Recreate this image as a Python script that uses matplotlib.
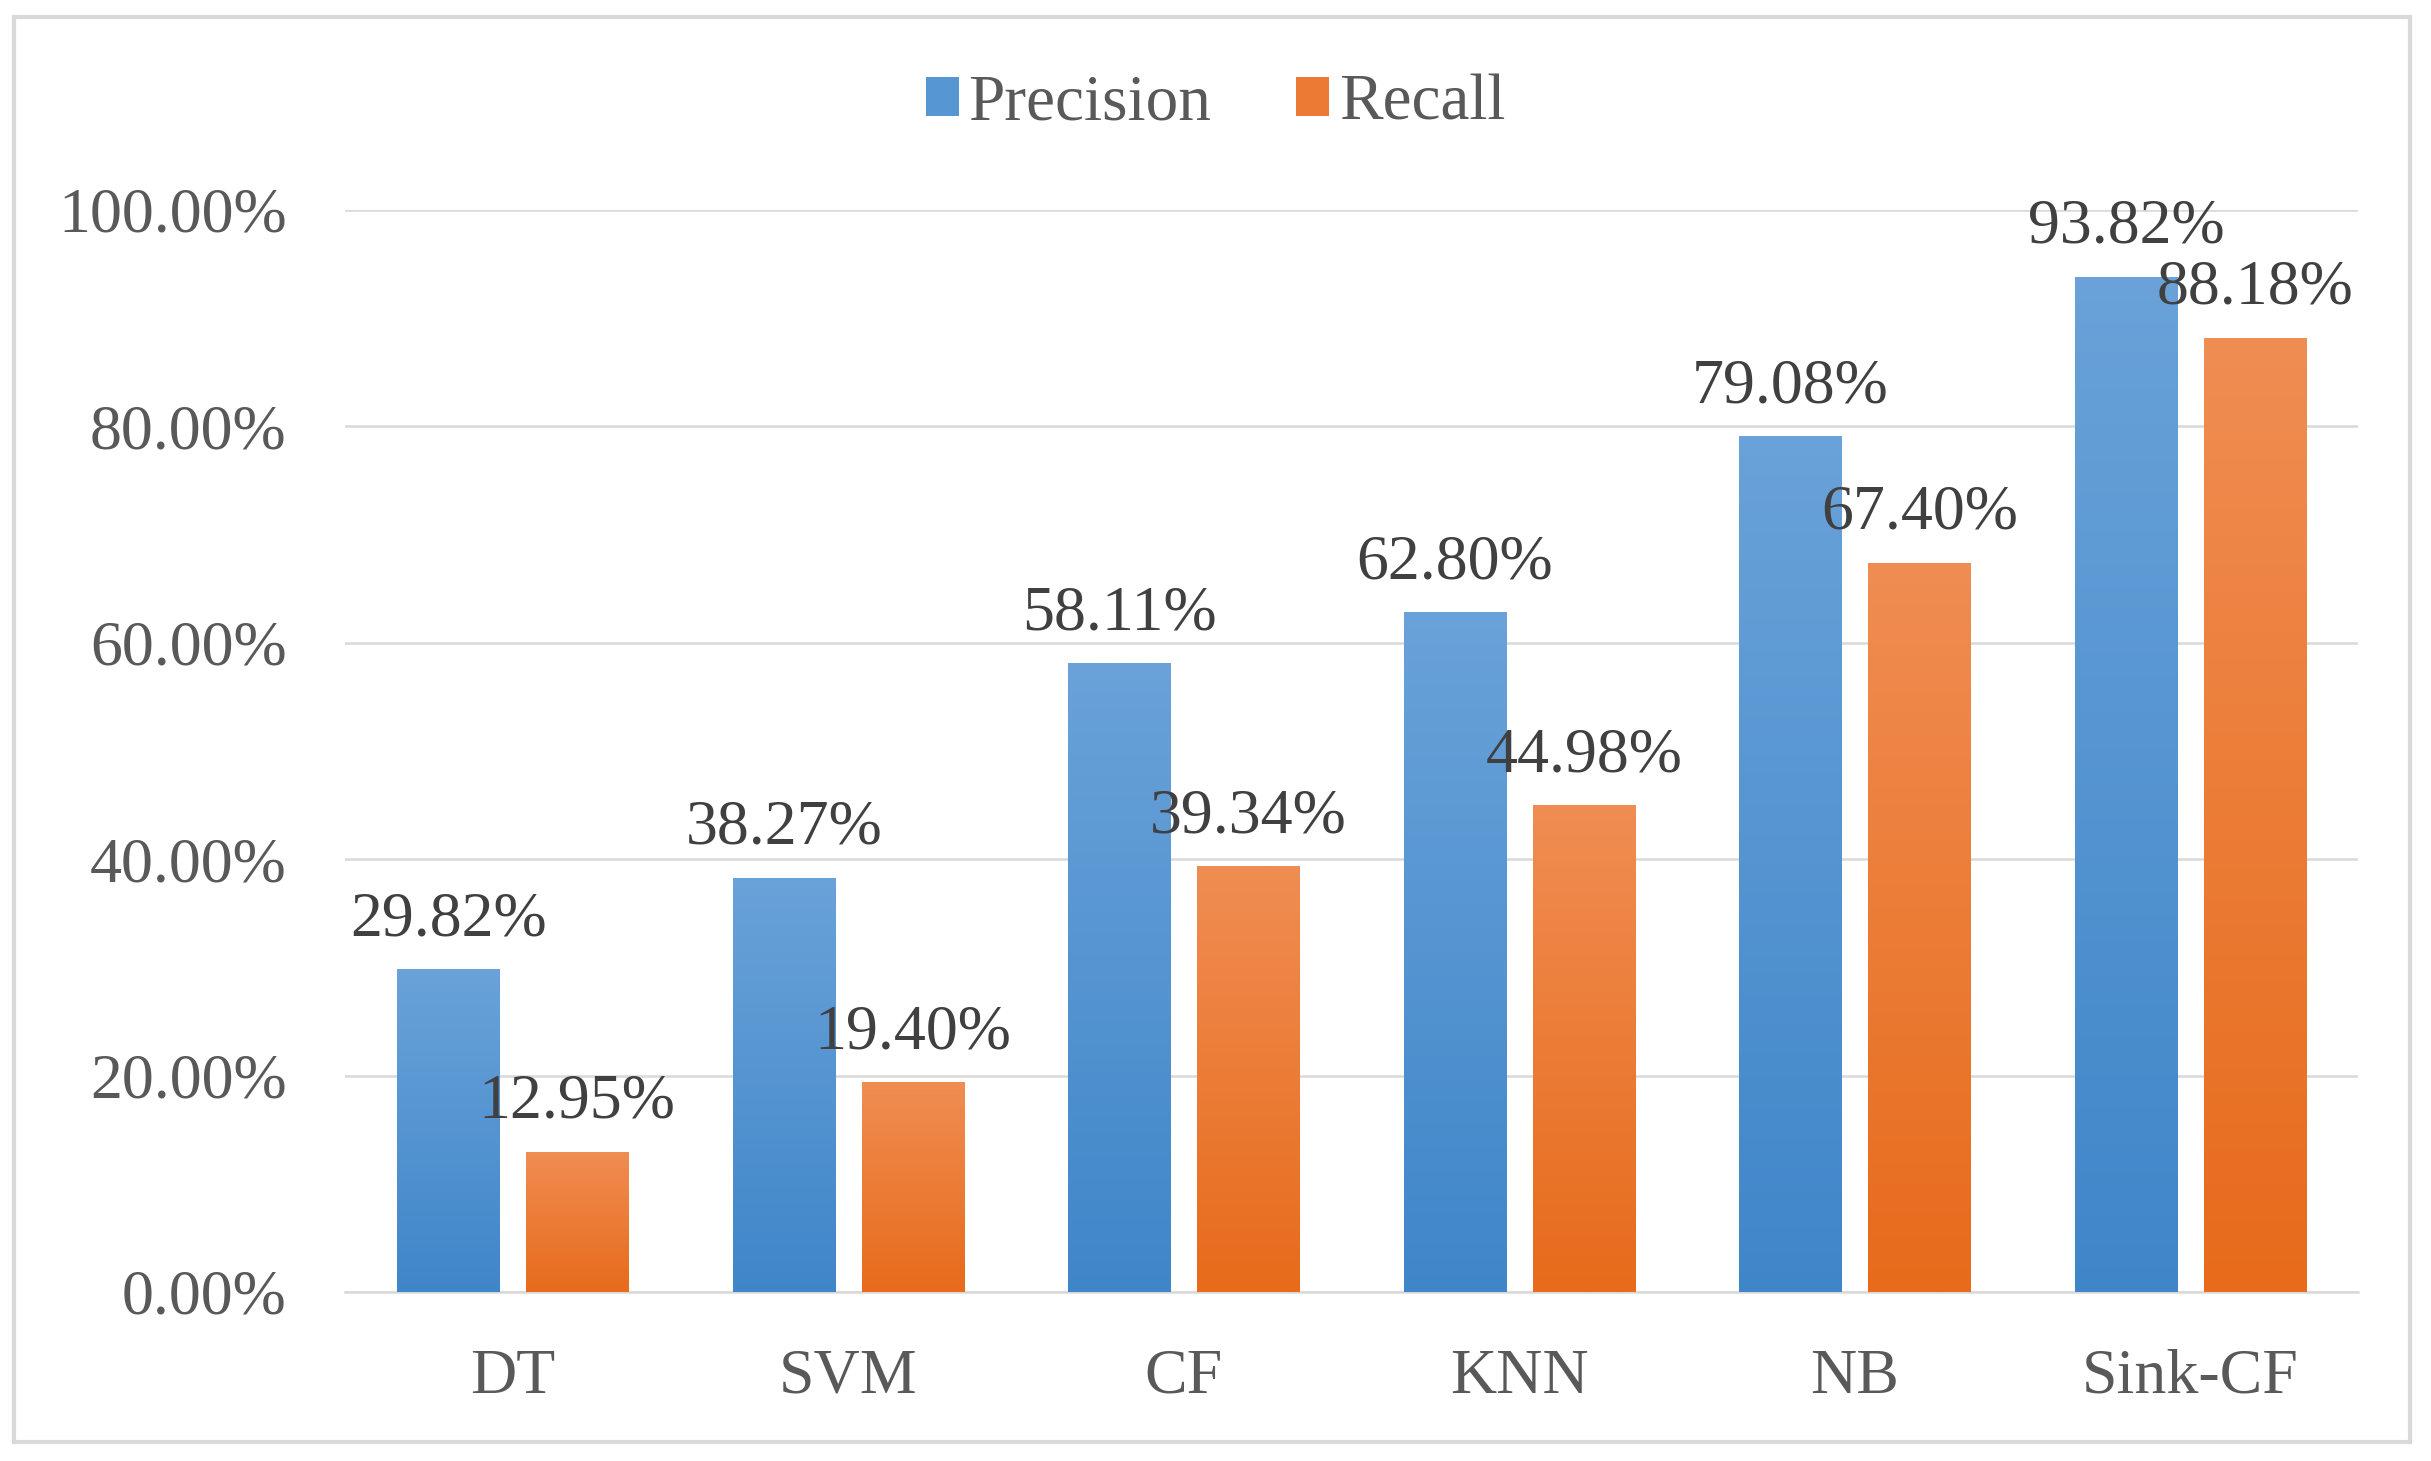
import numpy as np
import matplotlib
matplotlib.use("Agg")
import matplotlib.pyplot as plt
from matplotlib.colors import LinearSegmentedColormap
from matplotlib.patches import Rectangle, Patch
from matplotlib.ticker import FuncFormatter

categories = ["DT", "SVM", "CF", "KNN", "NB", "Sink-CF"]
precision = [29.82, 38.27, 58.11, 62.80, 79.08, 93.82]
recall = [12.95, 19.40, 39.34, 44.98, 67.40, 88.18]
series_names = ["Precision", "Recall"]
y_ticks = [0, 20, 40, 60, 80, 100]

blue_grad = ["#3f86c9", "#6aa2d9"]
orange_grad = ["#e76b1b", "#f08d52"]


def gradient_fill(ax, bars, colors):
    cmap = LinearSegmentedColormap.from_list("g", colors)
    grad = np.linspace(0, 1, 256).reshape(-1, 1)
    for b in bars:
        x0, y0 = b.get_x(), b.get_y()
        w, h = b.get_width(), b.get_height()
        im = ax.imshow(grad, cmap=cmap, origin="lower", aspect="auto",
                       extent=(x0, x0 + w, y0, y0 + h), zorder=3)
        im.set_clip_path(b)
        b.set_facecolor("none")


def main() -> None:
    plt.rcParams["font.family"] = ["Liberation Serif", "DejaVu Serif"]
    fig = plt.figure(figsize=(24.31, 14.61), dpi=100)
    ax = fig.add_axes([0.1419, 0.1157, 0.8282, 0.7406])

    x = np.arange(len(categories))
    width = 0.305
    off = 0.192

    b1 = ax.bar(x - off, precision, width, color=blue_grad[1],
                edgecolor="none", zorder=3)
    b2 = ax.bar(x + off, recall, width, color=orange_grad[1],
                edgecolor="none", zorder=3)
    gradient_fill(ax, b1, blue_grad)
    gradient_fill(ax, b2, orange_grad)

    for bars, vals in ((b1, precision), (b2, recall)):
        for b, v in zip(bars, vals):
            ax.annotate(f"{v:.2f}%", (b.get_x() + b.get_width() / 2, v),
                        xytext=(0, 34), textcoords="offset pixels",
                        ha="center", va="baseline", fontsize=46,
                        color="#404040", zorder=5, annotation_clip=False)

    ax.set_xlim(-0.5, len(categories) - 0.5)
    ax.set_ylim(0, 100)
    ax.set_yticks(y_ticks)
    ax.yaxis.set_major_formatter(FuncFormatter(lambda v, p: f"{v:.2f}%"))
    ax.set_xticks(x)
    ax.set_xticklabels(categories)
    ax.tick_params(axis="y", length=0, pad=42, labelsize=46,
                   labelcolor="#595959")
    ax.tick_params(axis="x", length=0, pad=41, labelsize=46,
                   labelcolor="#595959")
    ax.grid(axis="y", color="#d9d9d9", linewidth=1.8, zorder=0)
    ax.set_axisbelow(True)
    for s in ("top", "right", "left"):
        ax.spines[s].set_visible(False)
    ax.spines["bottom"].set_color("#d9d9d9")
    ax.spines["bottom"].set_linewidth(1.8)

    handles = [Patch(facecolor="#5596d3", edgecolor="none"),
               Patch(facecolor="#ec7a35", edgecolor="none")]
    fig.legend(handles, series_names, loc="center",
               bbox_to_anchor=(0.5, 1 - 104 / 1461), ncol=2, frameon=False,
               fontsize=47, handlelength=0.5, handleheight=0.55,
               handletextpad=0.15, columnspacing=1.3,
               labelcolor="#595959")

    fig.patches.append(Rectangle((14 / 2431, 1 - 1442 / 1461),
                                 (2410 - 14) / 2431, (1442 - 17) / 1461,
                                 transform=fig.transFigure, fill=False,
                                 edgecolor="#d9d9d9", linewidth=3))

    fig.savefig("out.png", dpi=100, facecolor="white")


if __name__ == "__main__":
    main()
